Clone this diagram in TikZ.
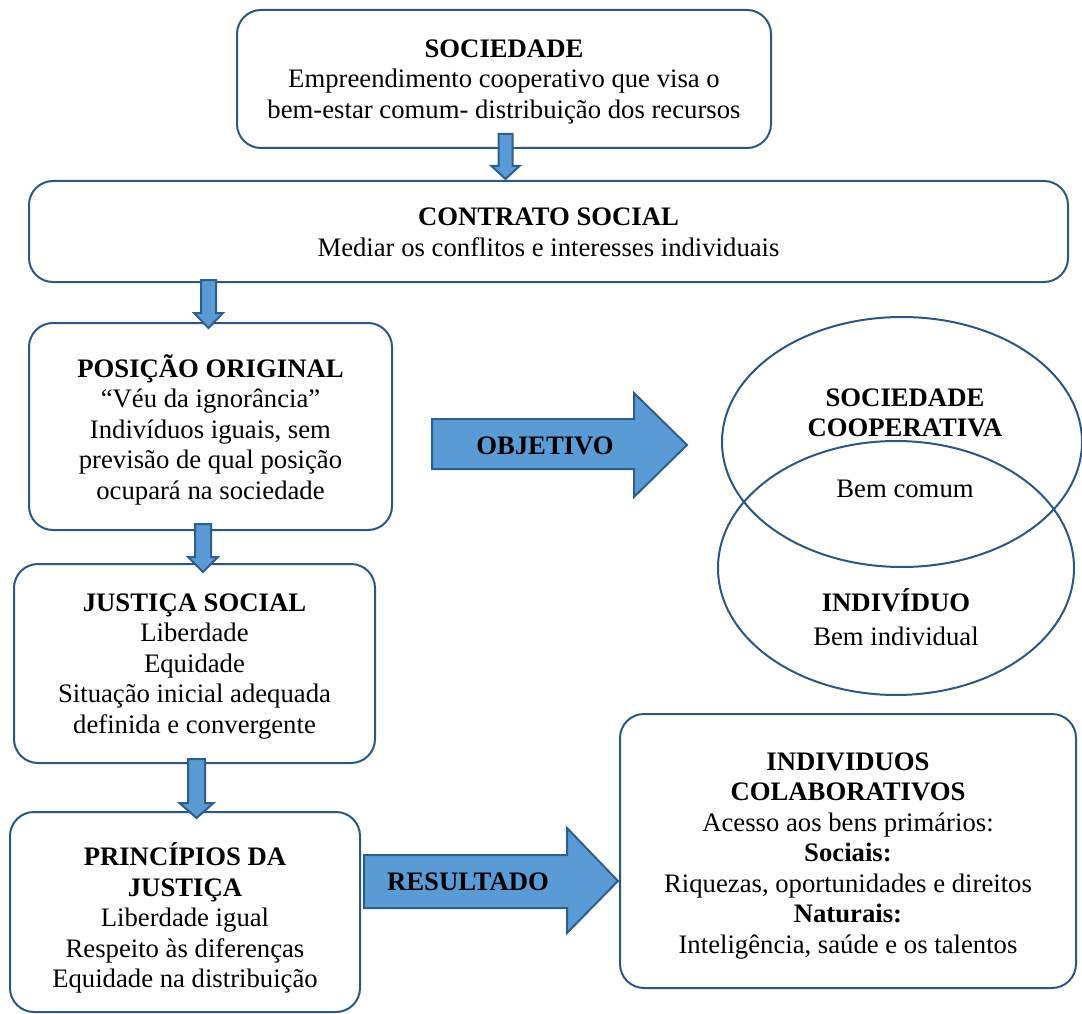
\documentclass[tikz,border=0pt]{standalone}
\usepackage{fontspec}
\setmainfont{Liberation Serif}
\usetikzlibrary{shapes.geometric}
\definecolor{boxline}{HTML}{2A5882}
\definecolor{arrfill}{HTML}{5B9BD5}
\definecolor{arrline}{HTML}{2E5E8C}
\begin{document}
\begin{tikzpicture}[x=1pt,y=-1pt,
  every node/.style={font=\fontsize{26.7}{30.5}\selectfont, inner sep=0pt},
  box/.style={draw=boxline, line width=2pt, rounded corners=24pt, fill=white},
  boxtext/.style={align=center},
  blockarrow/.style={draw=arrline, fill=arrfill, line width=2pt, line join=miter},
  venn/.style={draw=boxline, line width=2pt, ellipse}]
\useasboundingbox (0,0) rectangle (1082,1014);

% ellipses
\node[venn, minimum width=360pt, minimum height=250pt] (e1) at (902,442) {};
\node[venn, minimum width=356pt, minimum height=254pt] (e2) at (896,568) {};
\node[align=center] (e1t) at (905,413) {\textbf{SOCIEDADE}\\\textbf{COOPERATIVA}};
\node (e1b) at (905,489) {Bem comum};
\node (e2t) at (896,600) {\textbf{INDIVÍDUO}};
\node (e2b) at (896,636) {Bem individual};

% boxes
\node[box, minimum width=534pt, minimum height=138pt] (soc) at (504,79) {};
\node[boxtext] (socT) at ([yshift=-3pt]soc.center)
  {\textbf{SOCIEDADE}\\Empreendimento cooperativo que visa o\\bem-estar comum- distribuição dos recursos};
\node[box, minimum width=1039pt, minimum height=101pt] (con) at (548.5,231.5) {};
\node[boxtext] (conT) at ([yshift=-1pt]con.center)
  {\textbf{CONTRATO SOCIAL}\\Mediar os conflitos e interesses individuais};
\node[box, minimum width=363pt, minimum height=207pt] (pos) at (210.5,426.5) {};
\node[boxtext] (posT) at ([yshift=-3pt]pos.center)
  {\textbf{POSIÇÃO ORIGINAL}\\“Véu da ignorância”\\Indivíduos iguais, sem\\previsão de qual posição\\ocupará na sociedade};
\node[box, minimum width=361pt, minimum height=199pt] (jus) at (194.5,663.5) {};
\node[boxtext] (jusT) at ([yshift=-3pt]jus.center)
  {\textbf{JUSTIÇA SOCIAL}\\Liberdade\\Equidade\\Situação inicial adequada\\definida e convergente};
\node[box, minimum width=350pt, minimum height=200pt] (pri) at (185,912) {};
\node[boxtext] (priT) at ([yshift=-6pt]pri.center)
  {\textbf{PRINCÍPIOS DA}\\\textbf{JUSTIÇA}\\Liberdade igual\\Respeito às diferenças\\Equidade na distribuição};
\node[box, minimum width=456pt, minimum height=274pt] (ind) at (848,851) {};
\node[boxtext] (indT) at ([yshift=-5pt]ind.center)
  {\textbf{INDIVIDUOS}\\\textbf{COLABORATIVOS}\\Acesso aos bens primários:\\\textbf{Sociais:}\\Riquezas, oportunidades e direitos\\\textbf{Naturais:}\\Inteligência, saúde e os talentos};

% small down arrows
\draw[blockarrow] (498.5,134) -- (512.5,134) -- (512.5,166) -- (519.5,166) -- (505.5,179) -- (491.5,166) -- (498.5,166) -- cycle;
\draw[blockarrow] (201,280) -- (216,280) -- (216,313) -- (223,313) -- (208.5,328) -- (194,313) -- (201,313) -- cycle;
\draw[blockarrow] (195,524) -- (211,524) -- (211,557) -- (218,557) -- (203,572) -- (188,557) -- (195,557) -- cycle;
\draw[blockarrow] (188,759) -- (205,759) -- (205,803) -- (213.5,803) -- (196.5,818) -- (179.5,803) -- (188,803) -- cycle;

% big arrows
\draw[blockarrow] (432,419) -- (634,419) -- (634,393) -- (687,445) -- (634,497) -- (634,469) -- (432,469) -- cycle;
\node (obj) at (545,446) {\textbf{OBJETIVO}};
\draw[blockarrow] (364,855) -- (567,855) -- (567,828) -- (618,881) -- (567,933) -- (567,908) -- (364,908) -- cycle;
\node (res) at (468,882) {\textbf{RESULTADO}};
\end{tikzpicture}
\end{document}
